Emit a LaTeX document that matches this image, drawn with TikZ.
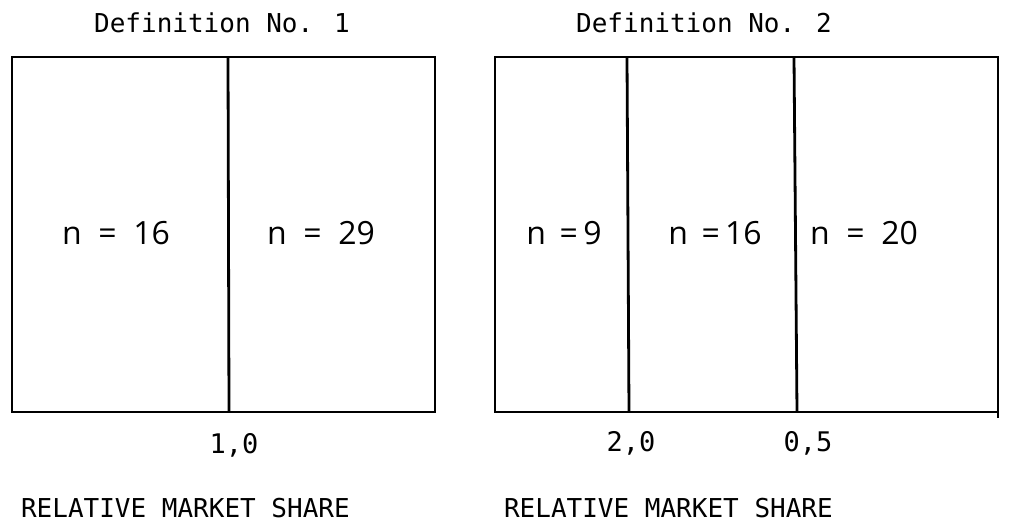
\documentclass[tikz,border=0pt]{standalone}
\usepackage{fontspec}
\newfontfamily\typefont{DejaVu Sans Mono}
\newfontfamily\countfont{Open Sans}

\begin{document}
\begin{tikzpicture}[
    x=0.5pt, y=-0.5pt,
    frame/.style={line width=1.4pt},
    title/.style={font=\typefont\fontsize{13}{15}\selectfont},
    count/.style={font=\countfont\fontsize{16}{19}\selectfont},
    tick/.style={font=\typefont\fontsize{13.5}{15}\selectfont},
]
\useasboundingbox (0,0) rectangle (1012,522);

% Definition No. 1: two cells
\node[title] (def1) at (222,23) {Definition No. 1};
\draw[frame] (12,57) rectangle (435,412);
\draw[frame] (228,57) -- (229,412);
\node[count] (n16a) at (116,233) {n \ = \ 16};
\node[count] (n29) at (321,233) {n \ = \ 29};
\node[tick] (cut1) at (234,445) {1,0};
\node[title,anchor=west] (rms1) at (14,508) {RELATIVE MARKET SHARE};

% Definition No. 2: three cells
\node[title] (def2) at (704,23) {Definition No. 2};
\draw[frame] (495,57) rectangle (998,412);
\draw[frame] (998,412) -- (998,418);
\draw[frame] (627,57) -- (629,412);
\draw[frame] (794,57) -- (797,412);
\node[count] (n9) at (564,233) {n \,=\,9};
\node[count] (n16b) at (715,233) {n \,=\,16};
\node[count] (n20) at (864,233) {n \ = \ 20};
\node[tick] (cut2) at (631,443) {2,0};
\node[tick] (cut3) at (808,443) {0,5};
\node[title,anchor=west] (rms2) at (497,508) {RELATIVE MARKET SHARE};
\end{tikzpicture}
\end{document}
